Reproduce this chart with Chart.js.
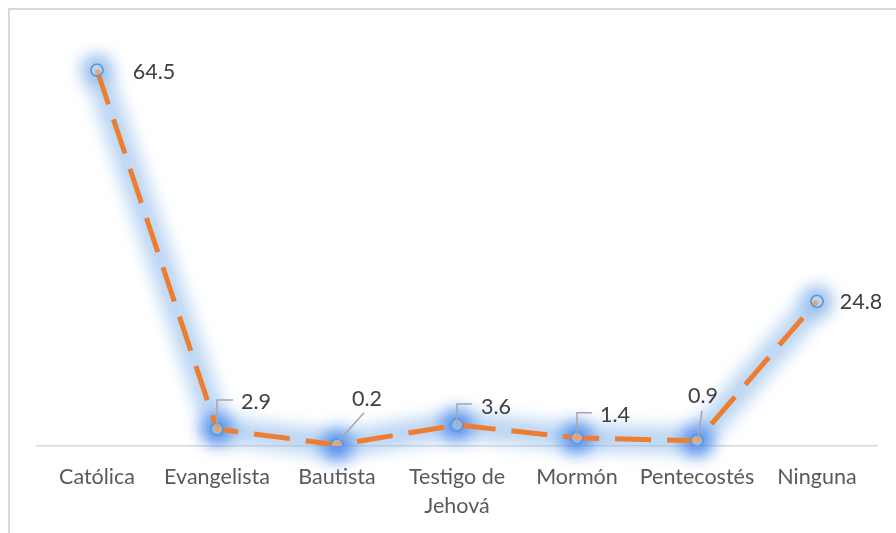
<!DOCTYPE html>
<html>
<head>
<meta charset="utf-8">
<script src="https://cdn.jsdelivr.net/npm/chart.js@4"></script>
<style>
  html, body { margin: 0; padding: 0; background: #fff; }
  #wrap { width: 896px; height: 533px; position: relative; }
</style>
</head>
<body>
<div id="wrap"><canvas id="religion"></canvas></div>
<script>
const categories = ["Católica", "Evangelista", "Bautista", ["Testigo de", "Jehová"], "Mormón", "Pentecostés", "Ninguna"];
const percents = [64.5, 2.9, 0.2, 3.6, 1.4, 0.9, 24.8];

// label placement relative to the point (label centre + leader line)
const labelPlacement = [
  { dx: 57, dy: 2, leader: null },
  { dx: 39, dy: -27, leader: [[0, -2], [0, -29], [16, -29]] },
  { dx: 30, dy: -46, leader: [[2, -4], [27, -32]] },
  { dx: 39, dy: -18, leader: [[0, -2], [0, -21], [15, -21]] },
  { dx: 38, dy: -23, leader: [[0, -2], [0, -25], [15, -25]] },
  { dx: 6, dy: -45, leader: [[1, -2], [5, -30]] },
  { dx: 44, dy: 1, leader: null }
];

const FONT = "Lato, 'Noto Sans', sans-serif";
const FONT_SIZE = 21.5;

// marco gris del gráfico
const frame = {
  id: "frame",
  beforeDraw(chart) {
    const ctx = chart.ctx;
    ctx.save();
    ctx.strokeStyle = "#d9d9d9";
    ctx.lineWidth = 2;
    ctx.strokeRect(9, 9, 1000, 1000);
    ctx.restore();
  }
};

// resplandor azul detrás de la línea
const glow = {
  id: "glow",
  beforeDatasetsDraw(chart) {
    const pts = chart.getDatasetMeta(0).data;
    const ctx = chart.ctx;
    ctx.save();
    ctx.filter = "blur(8px)";
    ctx.lineJoin = "round";
    ctx.lineCap = "round";
    ctx.strokeStyle = "rgba(140,185,235,0.6)";
    ctx.lineWidth = 26;
    ctx.beginPath();
    pts.forEach((p, i) => (i ? ctx.lineTo(p.x, p.y) : ctx.moveTo(p.x, p.y)));
    ctx.stroke();
    pts.forEach((p, i) => {
      ctx.fillStyle = (i === 0 || i === 6) ? "rgba(120,170,230,0.5)" : "rgba(45,115,235,0.7)";
      ctx.beginPath();
      ctx.arc(p.x, p.y, 16, 0, Math.PI * 2);
      ctx.fill();
    });
    ctx.restore();
  }
};

// etiquetas de datos con líneas guía
const dataLabels = {
  id: "dataLabels",
  afterDatasetsDraw(chart) {
    const pts = chart.getDatasetMeta(0).data;
    const ctx = chart.ctx;
    ctx.save();
    pts.forEach((p, i) => {
      const pl = labelPlacement[i];
      if (pl.leader) {
        ctx.strokeStyle = "#a6a6a6";
        ctx.lineWidth = 1.5;
        ctx.beginPath();
        pl.leader.forEach((o, k) => {
          const x = p.x + o[0], y = p.y + o[1];
          k ? ctx.lineTo(x, y) : ctx.moveTo(x, y);
        });
        ctx.stroke();
      }
      ctx.fillStyle = "#404040";
      ctx.font = FONT_SIZE + "px " + FONT;
      ctx.textAlign = "center";
      ctx.textBaseline = "middle";
      ctx.fillText(percents[i].toFixed(1), p.x + pl.dx, p.y + pl.dy);
    });
    ctx.restore();
  }
};

new Chart(document.getElementById("religion").getContext("2d"), {
  type: "line",
  data: {
    labels: categories,
    datasets: [{
      data: percents,
      borderColor: "#ED7D31",
      borderWidth: 5,
      borderDash: [36, 16],
      borderCapStyle: "butt",
      tension: 0,
      pointRadius: 6,
      pointBorderWidth: 1.8,
      pointBorderColor: "#5B9BD5",
      pointBackgroundColor: "rgba(225,237,250,0.35)"
    }]
  },
  options: {
    responsive: true,
    maintainAspectRatio: false,
    animation: false,
    layout: { padding: { left: 37, right: 19, top: 38, bottom: 0 } },
    plugins: { legend: { display: false }, tooltip: { enabled: false } },
    scales: {
      x: {
        offset: true,
        grid: { display: false, drawTicks: false },
        border: { display: true, color: "#d9d9d9", width: 1.5 },
        ticks: {
          color: "#595959",
          font: { family: FONT, size: FONT_SIZE, lineHeight: 1.35 },
          padding: 17,
          maxRotation: 0,
          autoSkip: false
        },
        afterFit(scale) { scale.height = 87; }
      },
      y: { display: false, min: 0, max: 70 }
    }
  },
  plugins: [frame, glow, dataLabels]
});
</script>
</body>
</html>
